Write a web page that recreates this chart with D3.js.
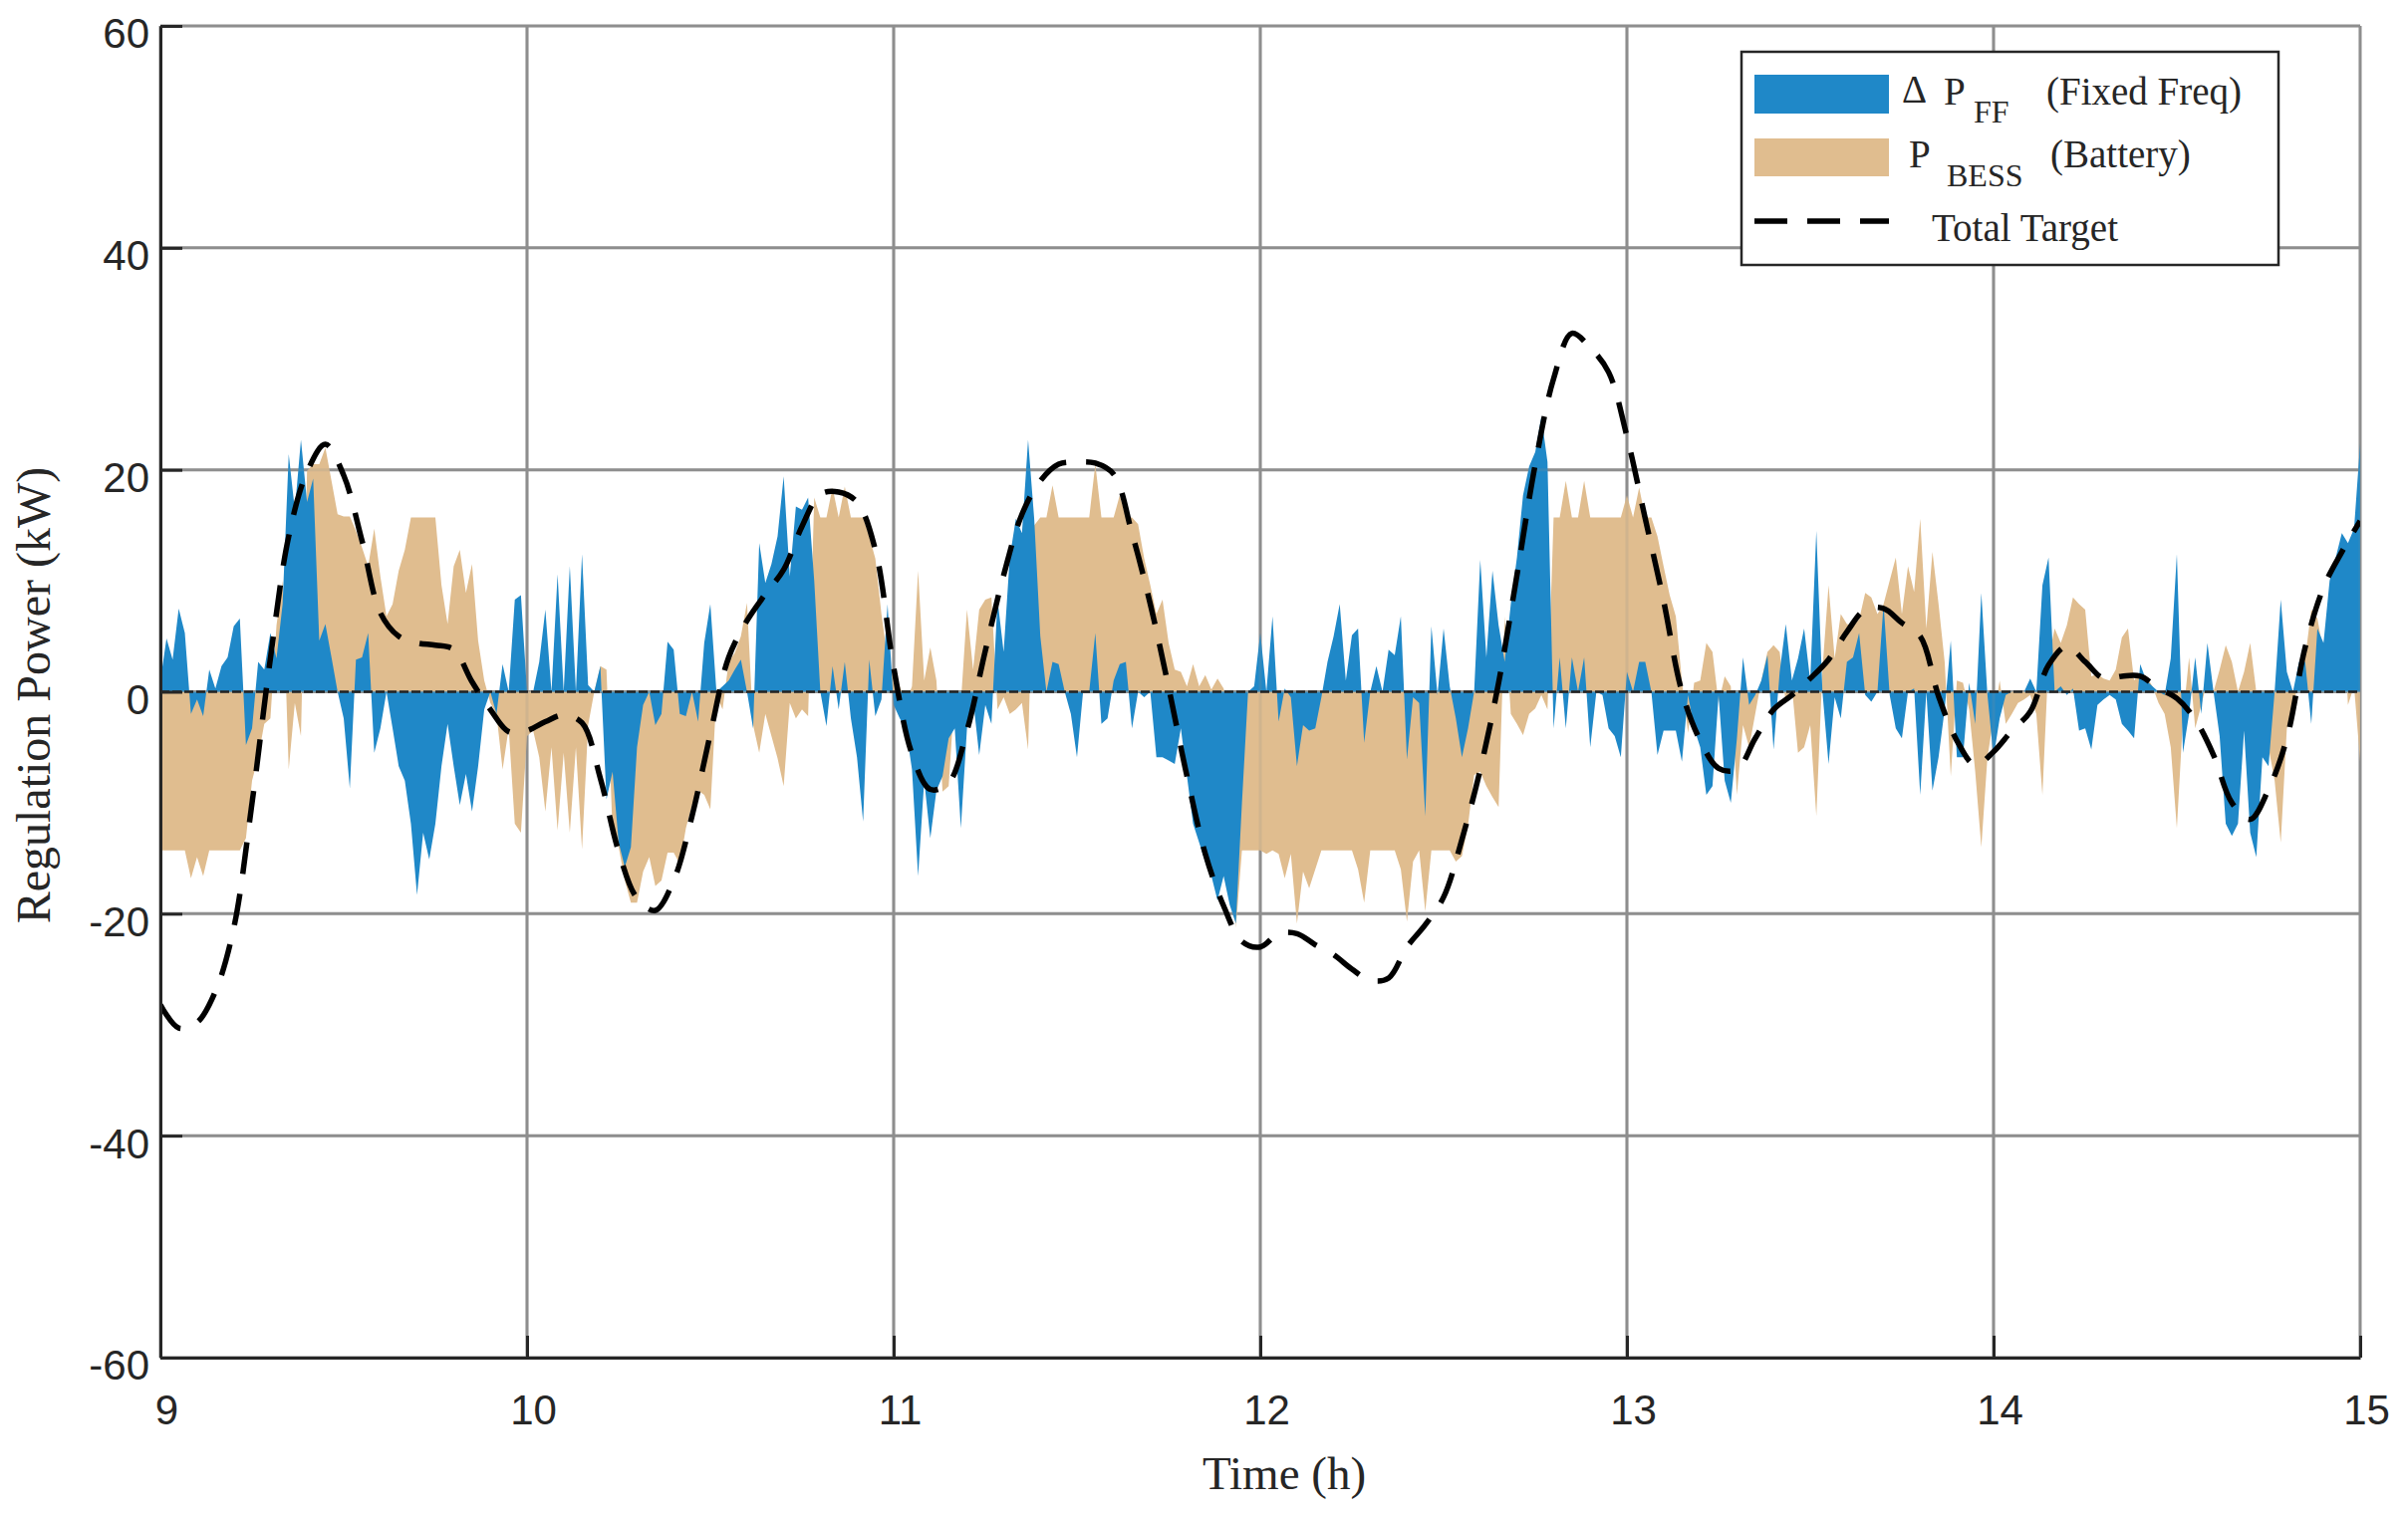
<!DOCTYPE html>
<html>
<head>
<meta charset="utf-8">
<script src="https://cdn.jsdelivr.net/npm/d3@7"></script>
<style>
  body { margin: 0; background: #fff; }
  svg text { fill: #262626; }
</style>
</head>
<body>
<div id="chart"></div>
<script>
// time axis: samples start at 9 h
const startHour = 9;
const ffStepH = 1 / 60;      // P_FF and P_BESS every minute
const targetStepH = 1 / 20;  // total target every 3 minutes

// ΔP_FF (kW), 1-min samples 9:00 .. 15:00
const pFF = [
  1, 4.8, 2.9, 7.5, 5.3, -2, -0.7, -2.2, 2, 0.3,
  2.3, 3.1, 5.9, 6.6, -4.8, -3.3, 2.7, 2, 5.3, 3,
  7.9, 21.4, 16.4, 22.7, 17.1, 19.2, 4.6, 6.1, 3.1, 0,
  -2.4, -8.7, 2.9, 3.1, 5.3, -5.5, -3.3, 0, -3.3, -6.7,
  -8, -11.9, -18.3, -12.7, -15.1, -11.9, -6.7, -2.9, -6.7, -10.2,
  -7.4, -10.8, -6.7, -1.6, 0, -2, 2.5, 0, 8.3, 8.7,
  0, 0, 2.7, 7.4, 0, 10.6, 0, 11.3, 0, 12.4,
  0.6, 0, 2.3, -9.7, -7.2, -13.6, -15.8, -14, -5, -1.2,
  0, -3, -2, 4.5, 3.8, -2, -2.2, 0, -2.7, 4.4,
  7.9, 0, 0.5, 1, 2, 2.9, 0, -3.3, 13.4, 9.8,
  11.5, 14, 19.4, 10.4, 16.7, 16.4, 17.5, 10, 0, -3.1,
  2.3, -1.6, 2.7, -2.4, -5.9, -11.7, 2.9, -2.2, -0.7, 7.9,
  -1.2, -2.4, -3.3, -7, -16.6, -8, -13.2, -8.9, -7.6, -4.2,
  -3.3, -12.3, -3.3, -0.7, -5.7, -1.2, -2.9, 8.3, 3.6, 12.1,
  15.6, 14.3, 22.7, 15.6, 5, 0, 2.7, 2.5, 0, -2,
  -5.9, 0, 0, 5.3, -2.9, -2.4, 1, 2.5, 2.7, -3.3,
  0, -0.5, 0, -5.9, -5.9, -6.2, -6.5, -3.3, -7.6, -11.9,
  -13.6, -15.3, -16.6, -18.8, -16.6, -19.2, -20.9, -10, 0, 0.5,
  5.3, 0, 6.8, -2.7, 0.3, -0.5, -6.7, -3, -3.5, -3.3,
  -0.5, 2.7, 5, 7.9, 1, 5.1, 5.7, -4.6, 0, 2.3,
  0, 3.8, 3.3, 6.8, -6.1, -0.5, -1, -11.2, 5.9, -0.3,
  5.7, 0.5, -2.4, -5.9, -3.3, 0, 11.9, 3.1, 10.9, 6,
  2.7, 7.9, 12.1, 17.7, 20.3, 21.6, 24.8, 20.7, -3.3, 3.1,
  -3.3, 3.1, 0, 3.1, -5, 0, -0.3, -3.3, -4, -5.9,
  1.8, 0, 2.7, 2.7, 0, -5.7, -3.5, -3.5, -3.5, -6.3,
  -0.3, -3.3, -5, -9.3, -8.5, -0.3, -8, -10, -4.2, 3.1,
  -1.2, -0.3, 1, 3.3, -5.2, 1.8, 6.1, 1, 3, 5.7,
  1, 14.5, 0, -6.5, -0.5, -2.4, 2.7, 3.1, 5.3, -0.3,
  -0.9, 0, 7.9, -0.3, -3.3, -4.2, 0, 0.3, -9.3, 0,
  -8.9, -5.9, -1.6, 4.6, -5.9, -5.9, 0.8, -2.9, 8.9, -0.3,
  -5.9, -2.4, -0.3, 0, 0, 0, 1.2, 0, 9.6, 12.1,
  0, 0.5, -0.3, 0.3, -3.5, -3.3, -5.2, -1.2, -0.7, -0.3,
  -0.7, -2.9, -3.5, -4.2, 2.5, 1, 0.5, 0, -0.3, 3,
  12.4, -5.5, -2, 3.1, -2, 4.4, 0, -4, -11.9, -13,
  -11.9, -3.5, -12.7, -14.9, -5.9, -6.7, 0, 8.3, 1.8, 0,
  2.7, 2.7, -2.9, 5.7, 4.4, 10, 12.1, 14.3, 13.4, 14.7, 22.4
];

// P_BESS (kW), 1-min samples 9:00 .. 15:00
const pBESS = [
  -14.3, -14.3, -14.3, -14.3, -14.3, -16.8, -14.9, -16.6, -14.3, -14.3,
  -14.3, -14.3, -14.3, -14.3, -13.2, -8, -5.9, -2.9, -2.4, 6,
  10, -7, -1, -4, 19.9, 20.5, 20.5, 22, 19, 16,
  15.8, 15.8, 14.5, 13, 11.3, 14.7, 10.4, 6.8, 7.9, 10.9,
  12.8, 15.7, 15.7, 15.7, 15.7, 15.7, 9.6, 6.1, 11.3, 12.8,
  8.9, 11.5, 4.6, 1, -1, -2, -7, -3.3, -11.9, -12.7,
  -4, -3.5, -5.9, -10.8, -5, -12.5, -5.5, -12.7, -5, -14.2,
  -3, 0, 2.3, 2, -12.7, -14, -17, -19, -19, -16.2,
  -14.9, -17.5, -17, -14.5, -14.5, -15.5, -12.3, -10.2, -8.9, -9.3,
  -10.6, -0.3, -1.6, 2.7, 3.5, 5, 8, -3, -5.5, -2,
  -4, -6, -8.5, -1, -2.4, -1.6, -2.2, 17.5, 15.7, 15.7,
  18.4, 15.7, 18.5, 15.7, 15.7, 15.7, 14, 12, 7, 3,
  1, 0.5, -1, 0.5, 10.9, 1, 4, 1, -9, -8.5,
  0, -1, 7.4, 2, 7.4, 8.3, 8.5, -1.6, -0.5, -2,
  -1.6, -1, -5.2, 15, 15.7, 15.7, 18.6, 15.7, 15.7, 15.7,
  15.7, 15.7, 15.7, 20.5, 15.7, 15.7, 15.7, 17.7, 15.7, 15.7,
  15.1, 12, 9.6, 7, 8.3, 4.4, 2, 1.8, 0.5, 2.5,
  0.5, 1.5, 0.2, 1.2, 0.3, -2, -21.3, -14.3, -14.3, -14.3,
  -14.3, -14.6, -14.3, -14.6, -16.8, -14.6, -20.9, -16.2, -17.7, -16,
  -14.3, -14.3, -14.3, -14.3, -14.3, -14.3, -16, -19, -14.3, -14.3,
  -14.3, -14.3, -14.3, -16, -20.7, -15.3, -14.3, -19.8, -14.3, -14.3,
  -14.3, -14.3, -15.3, -14.8, -12, -7.5, -7.2, -8.5, -9.5, -10.4,
  6.8, -2, -2.9, -3.9, -2, -1.5, -0.3, -1.6, 15.7, 15.7,
  19, 15.7, 15.7, 19, 15.7, 15.7, 15.7, 15.7, 15.7, 15.7,
  17.7, 15.7, 18.4, 15.7, 15.7, 14, 11.3, 8.7, 6.8, 1,
  -3.7, 0.8, 1, 4.4, 3.6, -1, 1.4, 0.5, -9.3, -3,
  -5, -2, 1, 3.6, 4.2, 3.6, -1, 0.5, -5.5, -5,
  -3, -11.2, 2, 9.6, 3, 7, 6.1, 6, 6.5, 8.9,
  8.5, 7, 7.9, 10, 12.1, 7, 11.3, 9, 15.6, 5.7,
  12.6, 7.9, 2.7, -7.6, 1, 0.8, -1.6, -7.2, -14, -5.9,
  -2.4, 1, -2.9, -2, -1, -0.7, -0.3, -2, -9.3, 3,
  5.7, 4.4, 6, 8.5, 7.9, 7.4, 1.4, 1.6, 1.2, 1,
  2, 4.9, 5.7, 1, 1.8, 1.4, 0.5, -1, -2, -5,
  -12.3, -2.4, 3.1, -3.3, -1.2, 1, 0, 2, 4.2, 2.7,
  0, 1.8, 4.4, 0, -2.9, -5, -8, -13.6, -3.3, -1.6,
  1.4, 3, 7.4, 6.6, 3.6, 7, 9, 10, -1.2, 0.5, -6.3
];

// total target (kW), 3-min samples 9:00 .. 15:00
const totalTarget = [
  -28.2, -30.3, -29.8, -27, -21.3, -10, 3, 14, 19.8, 22.3,
  19.5, 13.6, 7.1, 5, 4.4, 4.2, 3.8, 0.9, -1.6, -3.6,
  -3.5, -2.7, -2.1, -2.8, -7.8, -14.4, -18.6, -19.7, -17, -11.2,
  -3.8, 3.1, 6.4, 8.8, 11, 14.9, 17.8, 18, 17.1, 12.8,
  2.2, -5.6, -8.8, -8.2, -3.5, 3.7, 10.5, 16, 19, 20.5,
  20.7, 20.6, 19.6, 14.3, 7.9, 0.4, -7.6, -14.6, -19.3, -22.5,
  -23, -21.8, -21.8, -22.8, -23.7, -25, -26, -25.8, -23, -21,
  -18.5, -13.3, -7, 0.8, 10.5, 20.5, 28.2, 32.3, 31, 28.8,
  23, 15.6, 8.2, 0, -4.4, -6.9, -7, -4.2, -1.6, -0.3,
  1.2, 2.9, 5.4, 7.4, 7.5, 6.2, 5, -0.4, -4.4, -6.6,
  -5.4, -3.5, -1.8, 2.4, 4.1, 2.7, 1.2, 1.4, 1.4, 0.3,
  -0.6, -2.5, -5.7, -10, -11.5, -8.8, -4.2, 4, 9.4, 12.6, 15.4
];

const xTicks = [9, 10, 11, 12, 13, 14, 15];
const yTicks = [-60, -40, -20, 0, 20, 40, 60];

const W = 2417, H = 1521;
const margin = { top: 26, right: 48, bottom: 158, left: 161 },
      width = W - margin.left - margin.right,
      height = H - margin.top - margin.bottom;

const colFF = "#1f88c8", colBESS = "#e0bd8f";

const svgRoot = d3.select("#chart")
  .append("svg")
  .attr("width", W)
  .attr("height", H)
  .style("background", "#fff");

const svg = svgRoot.append("g")
  .attr("transform", `translate(${margin.left},${margin.top})`);

const x = d3.scaleLinear().domain([9, 15]).range([0, width]);
const y = d3.scaleLinear().domain([-60, 60]).range([height, 0]);

const ffData = pFF.map((v, i) => ({ t: startHour + i * ffStepH, v }));
const bessData = pBESS.map((v, i) => ({ t: startHour + i * ffStepH, v }));
const targetData = totalTarget.map((v, i) => ({ t: startHour + i * targetStepH, v }));

svg.append("clipPath").attr("id", "plot-clip")
  .append("rect").attr("width", width).attr("height", height);

// Grid
const grid = svg.append("g");
const drawGrid = (g, opacity) => {
  g.selectAll(".gx").data(xTicks).join("line")
    .attr("class", "gx")
    .attr("x1", d => x(d)).attr("x2", d => x(d))
    .attr("y1", 0).attr("y2", height)
    .attr("stroke", "#8e8e8e").attr("stroke-width", 3).attr("opacity", opacity);
  g.selectAll(".gy").data(yTicks).join("line")
    .attr("class", "gy")
    .attr("x1", 0).attr("x2", width)
    .attr("y1", d => y(d)).attr("y2", d => y(d))
    .attr("stroke", "#8e8e8e").attr("stroke-width", 3).attr("opacity", opacity);
};
drawGrid(grid, 1);

const area = d3.area()
  .x(d => x(d.t))
  .y0(y(0))
  .y1(d => y(d.v));

const plot = svg.append("g").attr("clip-path", "url(#plot-clip)");

// Areas
plot.append("path")
  .datum(bessData)
  .attr("fill", colBESS)
  .attr("d", area);

plot.append("path")
  .datum(ffData)
  .attr("fill", colFF)
  .attr("d", area);

// faint grid showing through the fills
drawGrid(plot.append("g"), 0.18);

// zero baseline
plot.append("line")
  .attr("x1", 0).attr("x2", width)
  .attr("y1", y(0)).attr("y2", y(0))
  .attr("stroke", "#222").attr("stroke-width", 2.5)
  .attr("stroke-dasharray", "9,3");

// Total target
const line = d3.line()
  .curve(d3.curveCatmullRom)
  .x(d => x(d.t))
  .y(d => y(d.v));

plot.append("path")
  .datum(targetData)
  .attr("fill", "none")
  .attr("stroke", "#000")
  .attr("stroke-width", 5.5)
  .attr("stroke-dasharray", "32,20")
  .attr("d", line);

// Axes
const xAxis = svg.append("g")
  .attr("transform", `translate(0,${height})`)
  .call(d3.axisBottom(x).tickValues(xTicks).tickFormat(d => String(d))
    .tickSizeInner(-22).tickSizeOuter(0).tickPadding(37));

const yAxis = svg.append("g")
  .call(d3.axisLeft(y).tickValues(yTicks).tickFormat(d => String(d))
    .tickSizeInner(-22).tickSizeOuter(0).tickPadding(11));

[xAxis, yAxis].forEach(ax => {
  ax.select(".domain").attr("stroke", "#262626").attr("stroke-width", 3);
  ax.selectAll(".tick line").attr("stroke", "#262626").attr("stroke-width", 3);
  ax.selectAll(".tick text")
    .attr("fill", "#262626")
    .style("font-family", "'Liberation Sans', Arial, sans-serif")
    .style("font-size", "42px");
});
yAxis.selectAll(".tick text").attr("dy", "0.52em");
xAxis.selectAll(".tick text").attr("dx", "6");

// Axis titles
svgRoot.append("text")
  .attr("x", 1289)
  .attr("y", 1495)
  .attr("text-anchor", "middle")
  .style("font-family", "'Liberation Serif', 'Times New Roman', serif")
  .style("font-size", "47px")
  .text("Time (h)");

svgRoot.append("text")
  .attr("transform", "translate(50,698) rotate(-90)")
  .attr("text-anchor", "middle")
  .style("font-family", "'Liberation Serif', 'Times New Roman', serif")
  .style("font-size", "48px")
  .text("Regulation Power (kW)");

// Legend
const lg = svgRoot.append("g")
  .style("font-family", "'Liberation Serif', 'Times New Roman', serif");

lg.append("rect")
  .attr("x", 1748).attr("y", 52)
  .attr("width", 539).attr("height", 214)
  .attr("fill", "#fff")
  .attr("stroke", "#262626").attr("stroke-width", 2.5);

lg.append("rect").attr("x", 1761).attr("y", 75).attr("width", 135).attr("height", 39).attr("fill", colFF);
lg.append("rect").attr("x", 1761).attr("y", 139).attr("width", 135).attr("height", 38).attr("fill", colBESS);
lg.append("line")
  .attr("x1", 1761).attr("x2", 1896)
  .attr("y1", 222).attr("y2", 222)
  .attr("stroke", "#000").attr("stroke-width", 5.5)
  .attr("stroke-dasharray", "33,20");

const legendTexts = [
  { x: 1909, y: 103, s: 39, t: "Δ" },
  { x: 1951, y: 105, s: 39, t: "P" },
  { x: 1981, y: 123, s: 32, t: "FF" },
  { x: 2054, y: 105, s: 39, t: "(Fixed Freq)" },
  { x: 1916, y: 168, s: 39, t: "P" },
  { x: 1954, y: 187, s: 32, t: "BESS" },
  { x: 2058, y: 168, s: 39, t: "(Battery)" },
  { x: 1939, y: 242, s: 39, t: "Total Target" }
];

lg.selectAll(".lt")
  .data(legendTexts)
  .join("text")
  .attr("class", "lt")
  .attr("x", d => d.x)
  .attr("y", d => d.y)
  .style("font-size", d => d.s + "px")
  .attr("fill", "#000")
  .text(d => d.t);
</script>
</body>
</html>
